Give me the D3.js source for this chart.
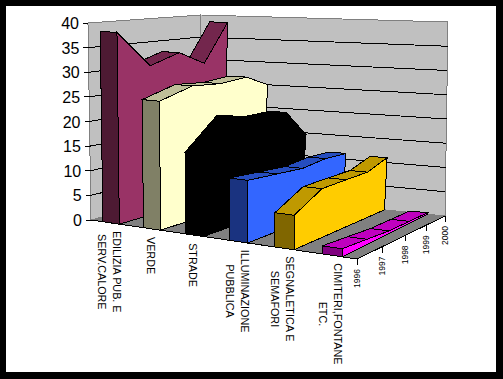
<!DOCTYPE html>
<html>
<head>
<meta charset="utf-8">
<script src="https://cdn.jsdelivr.net/npm/d3@7"></script>
<style>
html, body { margin: 0; padding: 0; background: #000; }
svg { display: block; }
text { font-family: "Liberation Sans", Arial, sans-serif; fill: #000; }
</style>
</head>
<body>
<svg width="503" height="379"></svg>
<script>
const categories = [
    ["EDILIZIA PUB. E", "SERV.CALORE"],
    ["VERDE"],
    ["STRADE"],
    ["ILLUMINAZIONE", "PUBBLICA"],
    ["SEGNALETICA E", "SEMAFORI"],
    ["CIMITERI,FONTANE", "ETC."]
];
const years = [1996, 1997, 1998, 1999, 2000];
const valueTicks = [0, 5, 10, 15, 20, 25, 30, 35, 40];

const ediliziaValues = [38.5, 31, 33, 30, 38.5];
const verdeValues = [25.5, 27.5, 27, 27.5, 25];
const stradeValues = [16, 22, 20.5, 20.5, 14.6];
const illuminazioneValues = [12, 11.5, 11, 11.5, 11.2];
const segnaleticaValues = [6.5, 9.6, 9.6, 9.5, 11];
const cimiteriValues = [1.5, 1, 0.5, 0.4, 0.3];
const seriesValues = [ediliziaValues, verdeValues, stradeValues, illuminazioneValues, segnaleticaValues, cimiteriValues];

// side, end, top colours of each ribbon
const seriesColors = [
    ["#993366", "#4d1a33", "#73264d"],
    ["#ffffcc", "#808066", "#bfbf99"],
    ["#000000", "#000000", "#000000"],
    ["#3366ff", "#1a3380", "#264dbf"],
    ["#ffcc00", "#806600", "#bf9900"],
    ["#ff00ff", "#800080", "#bf00bf"]
];

const svg = d3.select("svg");

svg.append("rect").attr("width", 503).attr("height", 379).attr("fill", "#000");
svg.append("rect").attr("x", 6).attr("y", 6).attr("width", 490).attr("height", 366).attr("fill", "#fff");

const catScale = d3.scaleBand().domain(d3.range(categories.length)).range([0, 1]).paddingInner(0.59).paddingOuter(0.3);
const yearScale = d3.scalePoint().domain(years).range([0, 1]);
const valueScale = d3.scaleLinear().domain([0, 40]).range([0, 1]);

// the box corners on screen: front-left, front-right, back-right, back-left
const floorCorners = [[91, 220], [357, 259], [445, 216], [200, 191]];
const topCorners = [[88, 23], [359, 42], [448, 22], [201, 15]];

// how much the category bands grow towards the right, along the front edge
const frontSqueeze = 0.89;
// ribbons run slightly to the left of the wall lines on their way back
const ribbonDrift = 0.017;

const floorMap = quadMap(floorCorners);
const topMap = quadMap(topCorners);

// perspective map from the unit square on a four sided shape
function quadMap (q) {
    let [[x0, y0], [x1, y1], [x2, y2], [x3, y3]] = q;
    let dx1 = x1 - x2, dx2 = x3 - x2, sx = x0 - x1 + x2 - x3;
    let dy1 = y1 - y2, dy2 = y3 - y2, sy = y0 - y1 + y2 - y3;
    let den = dx1*dy2 - dx2*dy1;
    let g = (sx*dy2 - dx2*sy)/den;
    let h = (dx1*sy - sx*dy1)/den;
    let a = x1 - x0 + g*x1, b = x3 - x0 + h*x3;
    let d = y1 - y0 + g*y1, e = y3 - y0 + h*y3;
    // the corners alone squeeze the left categories too much, this evens them out
    let k = frontSqueeze/(1 + g);
    return (u0, v) => {
        let u = k*u0/(1 + (k - 1)*u0);
        let w = g*u + h*v + 1;
        return [(a*u + b*v + x0)/w, (d*u + e*v + y0)/w];
    }
}

function project (u, v, value) {
    let t = valueScale(value);
    let f = floorMap(u, v);
    let p = topMap(u, v);
    return [f[0] + (p[0] - f[0])*t, f[1] + (p[1] - f[1])*t];
}

const ribbonPoint = (u, v, value) => project(u - ribbonDrift*v, v, value);

const line = pts => "M" + pts.map(p => p.join(",")).join("L");
const poly = pts => line(pts) + "Z";

const chart = svg.append("g").attr("shape-rendering", "crispEdges");

// walls and floor
chart.append("path").attr("fill", "#c0c0c0").attr("stroke", "#808080")
    .attr("d", poly([project(0, 0, 0), project(0, 0, 40), project(0, 1, 40), project(0, 1, 0)]));
chart.append("path").attr("fill", "#c0c0c0").attr("stroke", "#808080")
    .attr("d", poly([project(0, 1, 0), project(0, 1, 40), project(1, 1, 40), project(1, 1, 0)]));
chart.append("path").attr("fill", "#808080").attr("stroke", "none")
    .attr("d", poly([project(0, 0, 0), project(1, 0, 0), project(1, 1, 0), project(0, 1, 0)]));

// grid lines along the walls
chart.selectAll(".grid")
    .data(valueTicks.filter(d => d > 0 && d < 40))
    .join("path")
    .attr("class", "grid")
    .attr("fill", "none")
    .attr("stroke", "#000")
    .attr("d", d => line([project(0, 0, d), project(0, 1, d), project(1, 1, d)]));

// axis lines
chart.append("path").attr("fill", "none").attr("stroke", "#000")
    .attr("d", line([project(0, 0, 0), project(1, 0, 0), project(1, 1, 0)]));

// value axis
chart.selectAll(".ytick")
    .data(valueTicks)
    .join("path")
    .attr("class", "ytick")
    .attr("stroke", "#000")
    .attr("d", d => {
        let p = project(0, 0, d);
        return line([[p[0] - 5, p[1]], p]);
    });

svg.selectAll(".ylabel")
    .data(valueTicks)
    .join("text")
    .attr("class", "ylabel")
    .attr("text-anchor", "end")
    .attr("font-size", 16)
    .attr("x", d => project(0, 0, d)[0] - 9)
    .attr("y", d => project(0, 0, d)[1] + 6)
    .text(d => d);

// year axis
chart.selectAll(".xtick")
    .data(years)
    .join("path")
    .attr("class", "xtick")
    .attr("stroke", "#000")
    .attr("d", d => {
        let p = project(1, yearScale(d), 0);
        return line([p, [p[0], p[1] + 6]]);
    });

svg.selectAll(".yearlabel")
    .data(years)
    .join("text")
    .attr("class", "yearlabel")
    .attr("text-anchor", "end")
    .attr("font-size", 8.5)
    .attr("transform", d => {
        let p = project(1, yearScale(d), 0);
        return "translate(" + (p[0] + 3) + "," + (p[1] + 10) + ") rotate(-90)";
    })
    .text(d => d);

// ribbons, the farthest category first
seriesValues.forEach((values, c) => {
    let u0 = catScale(c), u1 = u0 + catScale.bandwidth();
    let colors = seriesColors[c];
    let g = chart.append("g").attr("stroke", "#000");

    // top strips from back to front
    for (let i = years.length - 2; i >= 0; i--) {
        let v0 = yearScale(years[i]), v1 = yearScale(years[i + 1]);
        g.append("path").attr("fill", colors[2])
            .attr("d", poly([ribbonPoint(u0, v0, values[i]), ribbonPoint(u1, v0, values[i]), ribbonPoint(u1, v1, values[i + 1]), ribbonPoint(u0, v1, values[i + 1])]));
    }

    // long side
    let side = years.map((y, i) => ribbonPoint(u1, yearScale(y), values[i]));
    g.append("path").attr("fill", colors[0])
        .attr("d", poly(side.concat([ribbonPoint(u1, 1, 0), ribbonPoint(u1, 0, 0)])));

    // front end
    g.append("path").attr("fill", colors[1])
        .attr("d", poly([ribbonPoint(u0, 0, 0), ribbonPoint(u0, 0, values[0]), ribbonPoint(u1, 0, values[0]), ribbonPoint(u1, 0, 0)]));
});

// category labels, the longest line starts at the floor edge
categories.forEach((lines, c) => {
    let p = project(catScale(c) + catScale.bandwidth()/2, 0, 0);
    let g = svg.append("g");
    let texts = lines.map((t, i) => g.append("text")
        .attr("text-anchor", "middle")
        .attr("font-size", 10.8)
        .attr("x", 0)
        .attr("y", i*15)
        .text(t));
    let longest = d3.max(texts, t => t.node().getComputedTextLength());
    g.attr("transform", "translate(" + (p[0] - 5 + (lines.length - 1)*7) + "," + (p[1] + 8 + longest/2) + ") rotate(90)");
});
</script>
</body>
</html>
